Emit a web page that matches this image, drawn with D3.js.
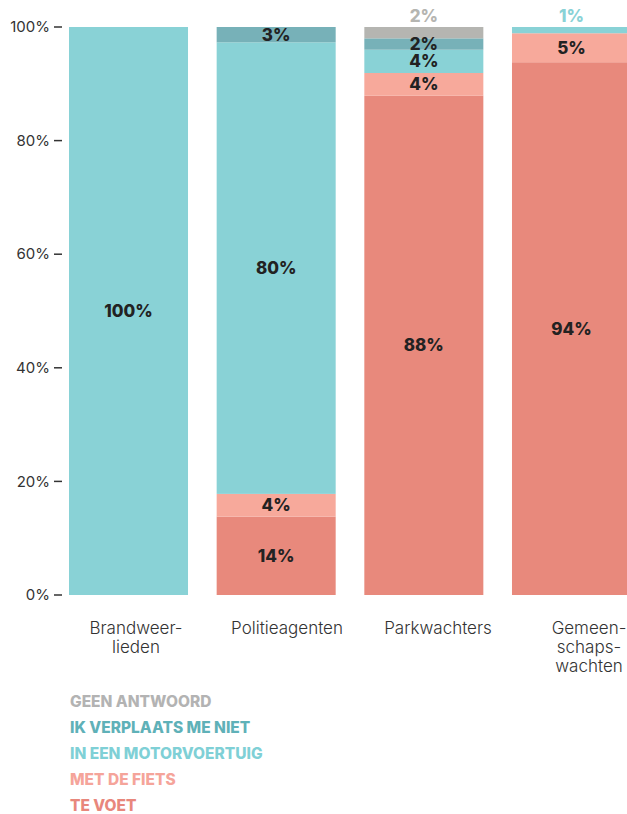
<!DOCTYPE html>
<html><head><meta charset="utf-8">
<script src="https://cdn.jsdelivr.net/npm/d3@7"></script>
<style>
body{margin:0;background:#fff;}
svg{display:block;font-family:Inter, "Noto Sans", sans-serif;}
</style></head>
<body><svg id="chart" width="627" height="814"></svg>
<script>
const categories = ["Brandweerlieden","Politieagenten","Parkwachters","Gemeenschapswachten"];
const categoryLabels = [["Brandweer-","lieden"],["Politieagenten"],["Parkwachters"],["Gemeen-","schaps-","wachten"]];
const seriesKeys = ["teVoet","fiets","motor","niet","geen"];
const seriesNames = ["TE VOET","MET DE FIETS","IN EEN MOTORVOERTUIG","IK VERPLAATS ME NIET","GEEN ANTWOORD"];
const teVoet = [0, 13.8, 87.9, 93.8];
const fiets  = [0, 4.0, 4.0, 5.1];
const motor  = [100, 79.5, 4.1, 1.1];
const niet   = [0, 2.7, 2.0, 0];
const geen   = [0, 0, 2.0, 0];
const yTicks = [0,20,40,60,80,100];

const barColors = {teVoet:"#e8897c", fiets:"#f7a99b", motor:"#89d2d6", niet:"#77b1b8", geen:"#b5b5b1"};
const legendColors = {teVoet:"#e8877c", fiets:"#f5a49a", motor:"#7fd0d6", niet:"#5fb1b8", geen:"#b3b3b3"};

const data = categories.map((c,i)=>({cat:c, teVoet:teVoet[i], fiets:fiets[i], motor:motor[i], niet:niet[i], geen:geen[i]}));
const stack = d3.stack().keys(seriesKeys)(data);

const svg = d3.select("#chart");
const x = d3.scaleBand().domain(categories).range([69, 631]).paddingInner(0.194).paddingOuter(0);
const y = d3.scaleLinear().domain([0,100]).range([595, 27]);
const xl = d3.scalePoint().domain(categories).range([136, 589]);

// bars
const layers = svg.append("g").selectAll("g").data(stack).join("g")
  .attr("fill", d=>barColors[d.key]);
layers.selectAll("rect").data(d=>d.map(v=>({v, key:d.key}))).join("rect")
  .attr("x", d=>x(d.v.data.cat))
  .attr("width", x.bandwidth())
  .attr("y", d=>y(d.v[1]))
  .attr("height", d=>Math.max(0, y(d.v[0])-y(d.v[1])));

// value labels
const labs = [];
stack.forEach(layer=>{
  layer.forEach(v=>{
    const val = v[1]-v[0];
    if (val<=0) return;
    const small = val < 1.5 || (layer.key==="geen");
    labs.push({cat:v.data.cat, key:layer.key, val, y0:v[0], y1:v[1], small});
  });
});
svg.append("g").selectAll("text").data(labs).join("text")
  .attr("x", d=>x(d.cat)+x.bandwidth()/2)
  .attr("y", d=> d.small ? y(d.y1)-5 : (y(d.y0)+y(d.y1))/2)
  .attr("dy", d=> d.small ? 0 : "0.36em")
  .attr("text-anchor","middle")
  .attr("font-size", 17)
  .attr("font-weight", 800)
  .attr("fill", d=> d.small ? barColors[d.key] : "#222")
  .text(d=>Math.round(d.val)+"%");

// y axis
const ya = svg.append("g");
ya.selectAll("line").data(yTicks).join("line")
  .attr("x1",54).attr("x2",62)
  .attr("y1",d=>y(d)).attr("y2",d=>y(d))
  .attr("stroke","#333").attr("stroke-width",1.5);
ya.selectAll("text").data(yTicks).join("text")
  .attr("x",50).attr("y",d=>y(d)).attr("dy","0.35em")
  .attr("text-anchor","end").attr("font-size",15).attr("font-weight",400).attr("fill","#333")
  .text(d=>d+"%");

// x labels
const xg = svg.append("g").selectAll("text").data(categories).join("text")
  .attr("x", d=>xl(d)).attr("y", 634)
  .attr("text-anchor","middle").attr("font-size",17).attr("font-weight",300).attr("fill","#333");
xg.each(function(d,i){
  d3.select(this).selectAll("tspan").data(categoryLabels[i]).join("tspan")
    .attr("x", xl(d)).attr("dy",(t,j)=>j===0?0:"1.12em").text(t=>t);
});

// legend
const legendOrder = ["geen","niet","motor","fiets","teVoet"];
svg.append("g").selectAll("text").data(legendOrder).join("text")
  .attr("x",70).attr("y",(d,i)=>707+i*26)
  .attr("font-size",15.5).attr("font-weight",800)
  .attr("fill",d=>legendColors[d])
  .text(d=>seriesNames[seriesKeys.indexOf(d)]);
</script></body></html>
